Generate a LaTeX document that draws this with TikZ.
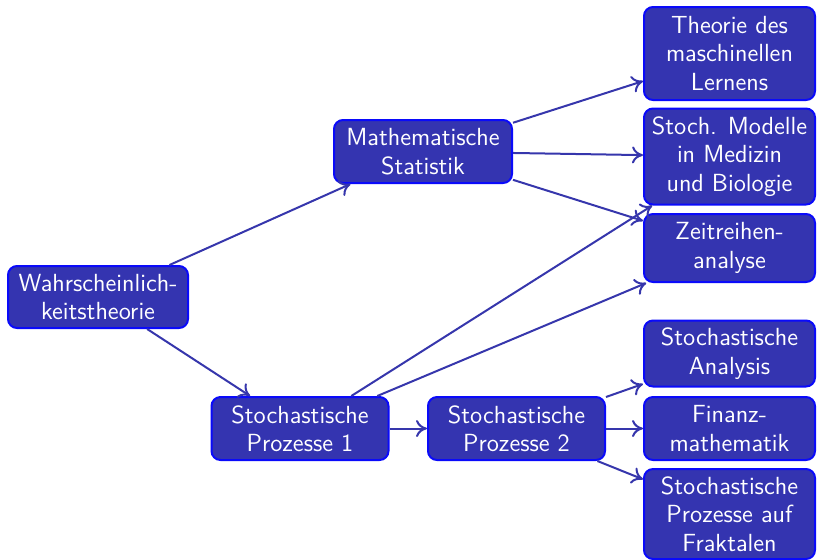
\documentclass[tikz,border=0pt]{standalone}
\usepackage{fontspec}
\usetikzlibrary{arrows.meta}
\definecolor{nodefill}{RGB}{52,52,176}
\definecolor{nodeborder}{RGB}{10,10,250}
\definecolor{edgecol}{RGB}{54,54,172}
\tikzset{
  box/.style={draw=nodeborder, fill=nodefill, line width=1pt, rounded corners=4.5pt,
    text=white, align=center, inner sep=0pt,
    font=\sffamily\fontsize{12.4}{14.2}\selectfont},
  edge/.style={draw=edgecol, line width=1pt, -{To[length=5.5pt,width=8.5pt]}}
}
\begin{document}
\begin{tikzpicture}[x=0.5pt,y=-0.5pt]
\useasboundingbox (0,0) rectangle (818,559);
\node[box, minimum width=90pt, minimum height=31pt] (W) at (98,297) {Wahrscheinlich-\\keitstheorie};
\node[box, minimum width=89pt, minimum height=31.5pt] (MS) at (423,151.5) {Mathematische\\Statistik};
\node[box, minimum width=88.5pt, minimum height=31.5pt] (SP1) at (300,428.5) {Stochastische\\Prozesse 1};
\node[box, minimum width=88.5pt, minimum height=31.5pt] (SP2) at (516.5,428.5) {Stochastische\\Prozesse 2};
\node[box, minimum width=85.5pt, minimum height=46.5pt] (TML) at (729.5,53.5) {Theorie des\\maschinellen\\Lernens};
\node[box, minimum width=85.5pt, minimum height=48pt] (SMB) at (729.5,156.5) {Stoch. Modelle\\in Medizin\\und Biologie};
\node[box, minimum width=85.5pt, minimum height=34pt] (ZR) at (729.5,248) {Zeitreihen-\\analyse};
\node[box, minimum width=85.5pt, minimum height=33pt] (SA) at (729.5,353.5) {Stochastische\\Analysis};
\node[box, minimum width=85.5pt, minimum height=31.5pt] (FM) at (729.5,428.5) {Finanz-\\mathematik};
\node[box, minimum width=85.5pt, minimum height=45pt] (SPF) at (729.5,514) {Stochastische\\Prozesse auf\\Fraktalen};
\draw[edge] (W) -- (MS);
\draw[edge] (W) -- (SP1);
\draw[edge] (MS) -- (TML);
\draw[edge] (MS) -- (SMB);
\draw[edge] (MS) -- (ZR);
\draw[edge] (SP1) -- (SMB);
\draw[edge] (SP1) -- (ZR);
\draw[edge] (SP1) -- (SP2);
\draw[edge] (SP2) -- (SA);
\draw[edge] (SP2) -- (FM);
\draw[edge] (SP2) -- (SPF);
\end{tikzpicture}
\end{document}
